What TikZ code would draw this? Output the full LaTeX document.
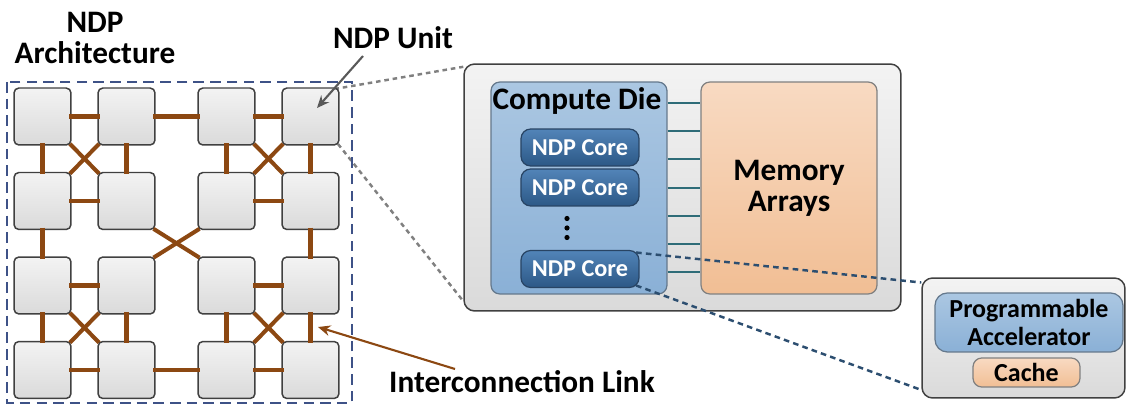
\documentclass[tikz,border=0pt]{standalone}
\usepackage{fontspec}
\setmainfont{Carlito}
\usetikzlibrary{arrows, arrows.meta, backgrounds}

\definecolor{tileborder}{RGB}{64,64,64}
\definecolor{tiletop}{RGB}{243,243,243}
\definecolor{tilebot}{RGB}{218,218,218}
\definecolor{linkbrown}{RGB}{140,72,18}
\definecolor{frameblue}{RGB}{62,82,135}
\definecolor{dietop}{RGB}{171,199,226}
\definecolor{diebot}{RGB}{138,176,214}
\definecolor{dieborder}{RGB}{100,120,140}
\definecolor{coretop}{RGB}{82,132,184}
\definecolor{corebot}{RGB}{44,88,134}
\definecolor{coreborder}{RGB}{40,68,100}
\definecolor{memtop}{RGB}{248,218,194}
\definecolor{membot}{RGB}{241,190,148}
\definecolor{busteal}{RGB}{46,108,120}
\definecolor{zoomblue}{RGB}{44,78,112}

\tikzset{
  tile/.style={draw=tileborder, line width=0.85pt, rounded corners=2.8pt,
    top color=tiletop, bottom color=tilebot, minimum size=1.14cm, inner sep=0pt},
  link/.style={draw=linkbrown, line width=2.3pt, shorten <=-1.5pt, shorten >=-1.5pt},
  archframe/.style={draw=frameblue, line width=0.9pt, dash pattern=on 6pt off 3.5pt},
  boxlabel/.style={font=\bfseries\fontsize{17.8}{17.6}\selectfont, align=center, inner sep=0pt},
  unitbox/.style={draw=tileborder, line width=0.85pt, rounded corners=6pt,
    top color=tiletop, bottom color=tilebot},
  diebox/.style={draw=dieborder, line width=0.7pt, rounded corners=5pt,
    top color=dietop, bottom color=diebot},
  corebox/.style={draw=coreborder, line width=0.7pt, rounded corners=5.5pt,
    top color=coretop, bottom color=corebot, minimum width=2.36cm, minimum height=0.74cm,
    text=white, font=\bfseries\fontsize{13.8}{14}\selectfont, inner sep=0pt},
  membox/.style={draw=gray, line width=0.7pt, rounded corners=5pt,
    top color=memtop, bottom color=membot},
  bus/.style={draw=busteal, line width=1pt},
  zoomline/.style={draw=gray, line width=1.4pt, dash pattern=on 2.6pt off 2.2pt},
  corezoom/.style={draw=zoomblue, line width=1.4pt, dash pattern=on 3.2pt off 2.4pt},
}

\begin{document}
\begin{tikzpicture}[x=0.02cm, y=-0.02cm]
\useasboundingbox (0,0) rectangle (1127,405);

%tiles
\node[tile] (t11) at (42.5,116.5) {};
\node[tile] (t12) at (126.5,116.5) {};
\node[tile] (t13) at (226.5,116.5) {};
\node[tile] (t14) at (310.5,116.5) {};

\node[tile] (t21) at (42.5,201) {};
\node[tile] (t22) at (126.5,201) {};
\node[tile] (t23) at (226.5,201) {};
\node[tile] (t24) at (310.5,201) {};

\node[tile] (t31) at (42.5,285.5) {};
\node[tile] (t32) at (126.5,285.5) {};
\node[tile] (t33) at (226.5,285.5) {};
\node[tile] (t34) at (310.5,285.5) {};

\node[tile] (t41) at (42.5,370) {};
\node[tile] (t42) at (126.5,370) {};
\node[tile] (t43) at (226.5,370) {};
\node[tile] (t44) at (310.5,370) {};

%links
\draw[link] (t11.east) -- (t12.west);
\draw[link] (t21.east) -- (t22.west);
\draw[link] (t11.south) -- (t21.north);
\draw[link] (t12.south) -- (t22.north);
\draw[link] (t11.south east) -- (t22.north west);
\draw[link] (t12.south west) -- (t21.north east);

\draw[link] (t13.east) -- (t14.west);
\draw[link] (t23.east) -- (t24.west);
\draw[link] (t13.south) -- (t23.north);
\draw[link] (t14.south) -- (t24.north);
\draw[link] (t13.south east) -- (t24.north west);
\draw[link] (t14.south west) -- (t23.north east);

\draw[link] (t31.east) -- (t32.west);
\draw[link] (t41.east) -- (t42.west);
\draw[link] (t31.south) -- (t41.north);
\draw[link] (t32.south) -- (t42.north);
\draw[link] (t31.south east) -- (t42.north west);
\draw[link] (t32.south west) -- (t41.north east);

\draw[link] (t33.east) -- (t34.west);
\draw[link] (t43.east) -- (t44.west);
\draw[link] (t33.south) -- (t43.north);
\draw[link] (t34.south) -- (t44.north);
\draw[link] (t33.south east) -- (t44.north west);
\draw[link] (t34.south west) -- (t43.north east);

\draw[link] (t12.east) -- (t13.west);
\draw[link] (t42.east) -- (t43.west);
\draw[link] (t21.south) -- (t31.north);
\draw[link] (t24.south) -- (t34.north);
\draw[link] (t22.south east) -- (t33.north west);
\draw[link] (t23.south west) -- (t32.north east);

%frame
\draw[archframe] (7,82) rectangle (352,403);

%labels
\node[boxlabel] (archlabel) at (95,38) {NDP\\Architecture};
\node[boxlabel] (unitlabel) at (393,38) {NDP Unit};
\node[boxlabel] (linklabel) at (522,382) {Interconnection Link};

\coordinate (unittail) at (363,56);
\coordinate (unittip) at (317,108);
\draw[draw=black!65, line width=1.2pt, -{Stealth[length=7pt,width=6pt]}] (unittail) -- (unittip);
\coordinate (linktail) at (455,369);
\coordinate (linktip) at (318,327);
\draw[draw=linkbrown, line width=1.2pt, -{Stealth[length=7pt,width=6pt]}] (linktail) -- (linktip);

%unit
\node[unitbox, minimum width=8.74cm, minimum height=4.94cm] (unitbox) at (682.5,187.5) {};
\node[diebox, minimum width=3.52cm, minimum height=4.24cm] (die) at (579,188) {};
\node[membox, minimum width=3.52cm, minimum height=4.24cm] (mem) at (789,188) {};
\node[boxlabel] (dielabel) at (577,101) {Compute Die};
\node[boxlabel] (memlabel) at (789,188) {Memory\\Arrays};

\node[corebox] (core1) at (580,147.5) {NDP Core};
\node[corebox] (core2) at (580,187.5) {NDP Core};
\node[corebox] (core3) at (580,269) {NDP Core};
\fill (567,218.5) circle (2.6);
\fill (567,228) circle (2.6);
\fill (567,237.5) circle (2.6);

\draw[bus] (die.east |- 0,103) -- (mem.west |- 0,103);
\draw[bus] (die.east |- 0,131) -- (mem.west |- 0,131);
\draw[bus] (die.east |- 0,159) -- (mem.west |- 0,159);
\draw[bus] (die.east |- 0,188) -- (mem.west |- 0,188);
\draw[bus] (die.east |- 0,216) -- (mem.west |- 0,216);
\draw[bus] (die.east |- 0,244) -- (mem.west |- 0,244);
\draw[bus] (die.east |- 0,272) -- (mem.west |- 0,272);

\begin{scope}[on background layer]
\draw[zoomline] ([xshift=-3pt,yshift=-1pt]t14.north east) -- ([yshift=-2pt]unitbox.north west);
\draw[zoomline] ([xshift=-1pt,yshift=1pt]t14.south east) -- ([yshift=6pt]unitbox.south west);
\end{scope}

%accelerator
\node[unitbox, minimum width=4.06cm, minimum height=2.4cm] (accbox) at (1023.5,338) {};
\node[diebox, rounded corners=7pt, minimum width=3.76cm, minimum height=1.18cm,
  font=\bfseries\fontsize{14.8}{15.8}\selectfont, align=center, inner sep=0pt] (prog) at (1029,322.5) {Programmable\\Accelerator};
\node[membox, minimum width=2.14cm, minimum height=0.58cm,
  font=\bfseries\fontsize{14.8}{15}\selectfont, inner sep=0pt] (cache) at (1026.5,372.5) {Cache};

\draw[corezoom] ([xshift=-2pt,yshift=-1.5pt]core3.north east) -- ([yshift=-3pt]accbox.north west);
\draw[corezoom] ([xshift=-2pt,yshift=1.5pt]core3.south east) -- ([yshift=5pt]accbox.south west);

\end{tikzpicture}
\end{document}
